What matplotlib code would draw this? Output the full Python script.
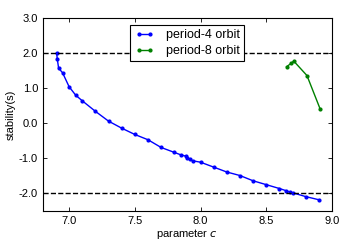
import matplotlib
matplotlib.use("Agg")
import matplotlib.pyplot as plt

c4 = [6.905, 6.91, 6.92, 6.95, 7.0, 7.05, 7.1, 7.2, 7.3, 7.4, 7.5, 7.6, 7.7, 7.8, 7.85,
      7.89, 7.9, 7.92, 7.94, 8.0, 8.1, 8.2, 8.3, 8.4, 8.5, 8.6, 8.65, 8.68, 8.7, 8.8, 8.9]
s4 = [2.0, 1.83, 1.57, 1.44, 1.04, 0.80, 0.64, 0.34, 0.06, -0.14, -0.32, -0.47, -0.69, -0.83, -0.90,
      -0.94, -0.98, -1.03, -1.07, -1.11, -1.25, -1.39, -1.49, -1.64, -1.75, -1.86, -1.92, -1.96, -1.98, -2.09, -2.18]
c8 = [8.655, 8.69, 8.71, 8.81, 8.91]
s8 = [1.61, 1.71, 1.77, 1.36, 0.41]
xticks = [7.0, 7.5, 8.0, 8.5, 9.0]
yticks = [-2.0, -1.0, 0.0, 1.0, 2.0, 3.0]

plt.rcParams['font.family'] = ['Liberation Sans', 'DejaVu Sans']
plt.rcParams['xtick.direction'] = 'in'
plt.rcParams['ytick.direction'] = 'in'
plt.rcParams['xtick.top'] = True
plt.rcParams['ytick.right'] = True

fig = plt.figure(figsize=(3.6, 2.4), dpi=100)
ax = fig.add_axes([0.119, 0.121, 0.803, 0.804])
ax.plot(c4, s4, '-o', color='b', ms=2, lw=1, label='period-4 orbit')
ax.plot(c8, s8, '-o', color='g', ms=2, lw=1, label='period-8 orbit')
ax.axhline(2.0, color='k', ls='--', lw=1)
ax.axhline(-2.0, color='k', ls='--', lw=1)
ax.set_xlim(6.8, 9.0)
ax.set_ylim(-2.5, 3.0)
ax.set_xticks(xticks)
ax.set_xticklabels([f"{v:.1f}" for v in xticks])
ax.set_yticks(yticks)
ax.set_yticklabels([f"{v:.1f}" for v in yticks])
ax.tick_params(labelsize=8, length=3, width=0.6)
for sp in ax.spines.values():
    sp.set_linewidth(0.8)
ax.set_xlabel('parameter $c$', fontsize=8, labelpad=1)
ax.set_ylabel('stability(s)', fontsize=8, labelpad=2)
leg = ax.legend(loc='upper center', fontsize=9, numpoints=2, fancybox=False,
                framealpha=1, edgecolor='k', borderaxespad=0.55, handlelength=1.5,
                handletextpad=1.0, labelspacing=0.3, borderpad=0.35)
leg.get_frame().set_linewidth(0.8)
fig.savefig('out.png', dpi=100)
